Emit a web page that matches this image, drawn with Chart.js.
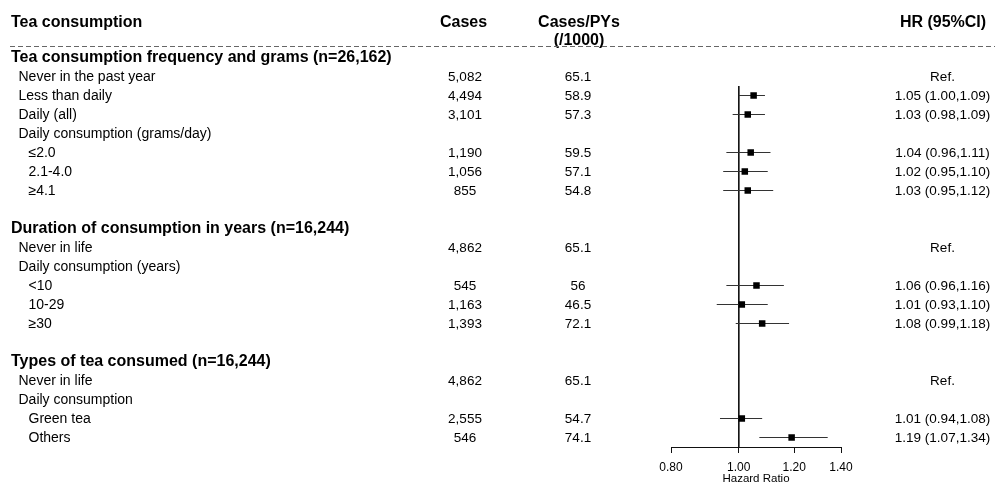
<!DOCTYPE html>
<html><head><meta charset="utf-8">
<script src="https://cdn.jsdelivr.net/npm/chart.js@4"></script>
<style>html,body{margin:0;padding:0;background:#fff;} #wrap{width:995px;height:485px;position:relative}</style>
</head><body><div id="wrap"><canvas id="c" width="995" height="485"></canvas></div>
<script>
const headerLabels = ['Tea consumption', 'Cases', 'Cases/PYs', '(/1000)', 'HR (95%CI)'];
const rowLabels = [
  'Tea consumption frequency and grams (n=26,162)', 'Never in the past year', 'Less than daily', 'Daily (all)',
  'Daily consumption (grams/day)', '\u22642.0', '2.1-4.0', '\u22654.1', '',
  'Duration of consumption in years (n=16,244)', 'Never in life', 'Daily consumption (years)', '<10', '10-29', '\u226530', '',
  'Types of tea consumed (n=16,244)', 'Never in life', 'Daily consumption', 'Green tea', 'Others'
];
const rowLevel = [0,1,1,1,1,2,2,2,1, 0,1,1,2,2,2,1, 0,1,1,2,2];
const cases = ['', '5,082','4,494','3,101','','1,190','1,056','855','', '', '4,862','', '545','1,163','1,393','', '', '4,862','', '2,555','546'];
const ratePYs = ['', '65.1','58.9','57.3','','59.5','57.1','54.8','', '', '65.1','', '56','46.5','72.1','', '', '65.1','', '54.7','74.1'];
const hrText = ['', 'Ref.', '1.05 (1.00,1.09)', '1.03 (0.98,1.09)', '', '1.04 (0.96,1.11)', '1.02 (0.95,1.10)', '1.03 (0.95,1.12)', '',
  '', 'Ref.', '', '1.06 (0.96,1.16)', '1.01 (0.93,1.10)', '1.08 (0.99,1.18)', '',
  '', 'Ref.', '', '1.01 (0.94,1.08)', '1.19 (1.07,1.34)'];
const hr     = [null,null,1.05,1.03,null,1.04,1.02,1.03,null, null,null,null,1.06,1.01,1.08,null, null,null,null,1.01,1.19];
const ciLow  = [null,null,1.00,0.98,null,0.96,0.95,0.95,null, null,null,null,0.96,0.93,0.99,null, null,null,null,0.94,1.07];
const ciHigh = [null,null,1.09,1.09,null,1.11,1.10,1.12,null, null,null,null,1.16,1.10,1.18,null, null,null,null,1.08,1.34];
const xTicks = [0.8, 1.0, 1.2, 1.4];
const refValue = 1.0;
const axisTitle = 'Hazard Ratio';

const FF = '"Liberation Sans", Arial, Helvetica, sans-serif';

const points = [], ciSegs = [];
hr.forEach((v, i) => {
  if (v === null) return;
  points.push({x: v, y: i});
  ciSegs.push({x: ciLow[i], y: i}, {x: ciHigh[i], y: i}, {x: null, y: null});
});

const tablePlugin = {
  id: 'table',
  afterDraw(chart) {
    const ctx = chart.ctx, ys = chart.scales.y;
    ctx.save();
    ctx.fillStyle = '#000';
    ctx.textBaseline = 'alphabetic';
    ctx.font = 'bold 16px ' + FF;
    ctx.textAlign = 'left';
    ctx.fillText(headerLabels[0], 11, 26.5);
    ctx.textAlign = 'center';
    ctx.fillText(headerLabels[1], 463.5, 26.5);
    ctx.fillText(headerLabels[2], 579, 26.5);
    ctx.fillText(headerLabels[3], 579, 44.5);
    ctx.fillText(headerLabels[4], 943, 26.5);
    ctx.strokeStyle = '#666';
    ctx.lineWidth = 1;
    ctx.setLineDash([5, 3]);
    ctx.beginPath(); ctx.moveTo(10, 46.5); ctx.lineTo(995, 46.5); ctx.stroke();
    ctx.setLineDash([]);
    ctx.textBaseline = 'middle';
    rowLabels.forEach((lab, i) => {
      const y = ys.getPixelForValue(i) + 0.5;
      const lvl = rowLevel[i];
      ctx.textAlign = 'left';
      if (lvl === 0) { ctx.font = 'bold 16px ' + FF; ctx.fillText(lab, 11, y); }
      else { ctx.font = '14px ' + FF; ctx.fillText(lab, lvl === 1 ? 18.5 : 28.5, y); }
      ctx.font = '13.5px ' + FF;
      ctx.textAlign = 'center';
      if (cases[i]) ctx.fillText(cases[i], 465, y);
      if (ratePYs[i]) ctx.fillText(ratePYs[i], 578, y);
      if (hrText[i]) ctx.fillText(hrText[i], 942.5, y);
    });
    ctx.restore();
  }
};

new Chart(document.getElementById('c'), {
  data: {
    datasets: [
      { type: 'line', data: [{x: refValue, y: 1.5}, {x: refValue, y: 20.5}], borderColor: '#111', borderWidth: 1, pointRadius: 0, order: 3 },
      { type: 'line', data: ciSegs, borderColor: '#333', borderWidth: 1, pointRadius: 0, spanGaps: false, order: 2 },
      { type: 'scatter', data: points, pointStyle: 'rect', pointRadius: 4.6, pointHoverRadius: 4.6, backgroundColor: '#000', borderWidth: 0, order: 1 }
    ]
  },
  options: {
    responsive: false, animation: false, devicePixelRatio: 1,
    layout: { padding: { left: 671, right: 154, top: 48, bottom: 0 } },
    plugins: { legend: { display: false }, tooltip: { enabled: false } },
    scales: {
      x: {
        type: 'logarithmic', min: 0.8, max: 1.4,
        afterBuildTicks: s => { s.ticks = xTicks.map(v => ({ value: v })); },
        afterFit: s => { s.height = 38; s.paddingLeft = 0; s.paddingRight = 0; },
        grid: { drawOnChartArea: false, drawTicks: true, tickLength: 6, color: '#111', lineWidth: 1 },
        border: { display: true, color: '#111', width: 1 },
        ticks: { callback: v => Number(v).toFixed(2), font: { family: FF, size: 12 }, color: '#000', padding: 7, maxRotation: 0, autoSkip: false },
        title: { display: true, text: axisTitle, font: { family: FF, size: 11.5, lineHeight: 1 }, color: '#000', padding: { top: 0, bottom: 0 } }
      },
      y: { type: 'linear', reverse: true, min: -0.5, max: 20.5, display: false }
    }
  },
  plugins: [tablePlugin]
});
</script></body></html>
